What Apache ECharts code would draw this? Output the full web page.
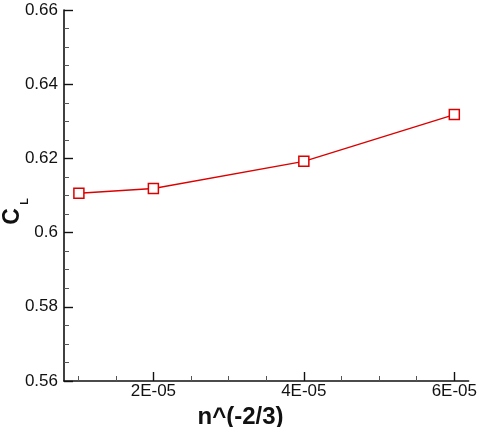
<!DOCTYPE html>
<html>
<head>
<meta charset="utf-8">
<script src="https://cdn.jsdelivr.net/npm/echarts@6/dist/echarts.min.js"></script>
<style>
  html, body { margin: 0; padding: 0; background: #fff; }
  #chart { width: 480px; height: 427px; }
</style>
</head>
<body>
<div id="chart"></div>
<script>
// data
const xValues = [1.01e-5, 2e-5, 4e-5, 6e-5]
const clValues = [0.6106, 0.6119, 0.6192, 0.6318]
const xLabelValues = [2e-5, 4e-5, 6e-5]
const xMinorValues = [1e-5, 1.5e-5, 2.5e-5, 3e-5, 3.5e-5, 4.5e-5, 5e-5, 5.5e-5]
const yMinorValues = [0.565, 0.57, 0.575, 0.585, 0.59, 0.595, 0.605, 0.61, 0.615,
  0.625, 0.63, 0.635, 0.645, 0.65, 0.655]

const chart = echarts.init(document.getElementById('chart'))
const font = 'Liberation Sans, Arial, sans-serif'
const black = '#111'

const xBase = {
  type: 'value',
  position: 'bottom',
  min: 0.812e-5,
  max: 6.19e-5,
  splitLine: { show: false },
  axisLine: { lineStyle: { color: black, width: 1.6 } }
}
const yBase = {
  type: 'value',
  position: 'left',
  min: 0.56,
  max: 0.66,
  interval: 0.02,
  splitLine: { show: false },
  axisLine: { show: true, lineStyle: { color: black, width: 1.6 } }
}

const option = {
  animation: false,
  grid: { left: 64, right: 10, top: 10, bottom: 46 },
  xAxis: [
    Object.assign({}, xBase, {
      axisTick: { inside: true, length: 9, lineStyle: { color: black, width: 1.4 }, customValues: xLabelValues },
      axisLabel: {
        customValues: xLabelValues,
        color: black, fontFamily: font, fontSize: 17, margin: 2,
        formatter: v => Math.round(v * 1e5) + 'E-05'
      }
    }),
    Object.assign({}, xBase, {
      axisLine: { show: false },
      axisTick: { inside: true, length: 5, lineStyle: { color: '#555', width: 1 }, customValues: xMinorValues },
      axisLabel: { show: false }
    })
  ],
  yAxis: [
    Object.assign({}, yBase, {
      axisTick: { show: true, inside: true, length: 9, lineStyle: { color: black, width: 1.4 } },
      axisLabel: {
        color: black, fontFamily: font, fontSize: 17, margin: 6,
        formatter: v => String(Number(v.toFixed(2)))
      }
    }),
    Object.assign({}, yBase, {
      axisLine: { show: false },
      axisTick: { show: true, inside: true, length: 5, lineStyle: { color: '#555', width: 1 }, customValues: yMinorValues },
      axisLabel: { show: false }
    })
  ],
  graphic: [
    {
      type: 'text', x: 240.5, y: 417,
      style: { text: 'n^(-2/3)', font: 'bold 24px ' + font, fill: black, align: 'center', verticalAlign: 'middle' }
    },
    {
      type: 'text', x: 12.5, y: 216.5, rotation: Math.PI / 2,
      style: { text: 'C', font: 'bold 23px ' + font, fill: black, align: 'center', verticalAlign: 'middle' }
    },
    {
      type: 'text', x: 24.5, y: 201.5, rotation: Math.PI / 2,
      style: { text: 'L', font: 'bold 11px ' + font, fill: black, align: 'center', verticalAlign: 'middle' }
    }
  ],
  series: [{
    type: 'line',
    data: xValues.map((x, i) => [x, clValues[i]]),
    symbol: 'rect',
    symbolSize: 10,
    lineStyle: { color: '#dd0000', width: 1.4 },
    itemStyle: { color: '#fff', borderColor: '#dd0000', borderWidth: 1.5 }
  }]
}
chart.setOption(option)
</script>
</body>
</html>
